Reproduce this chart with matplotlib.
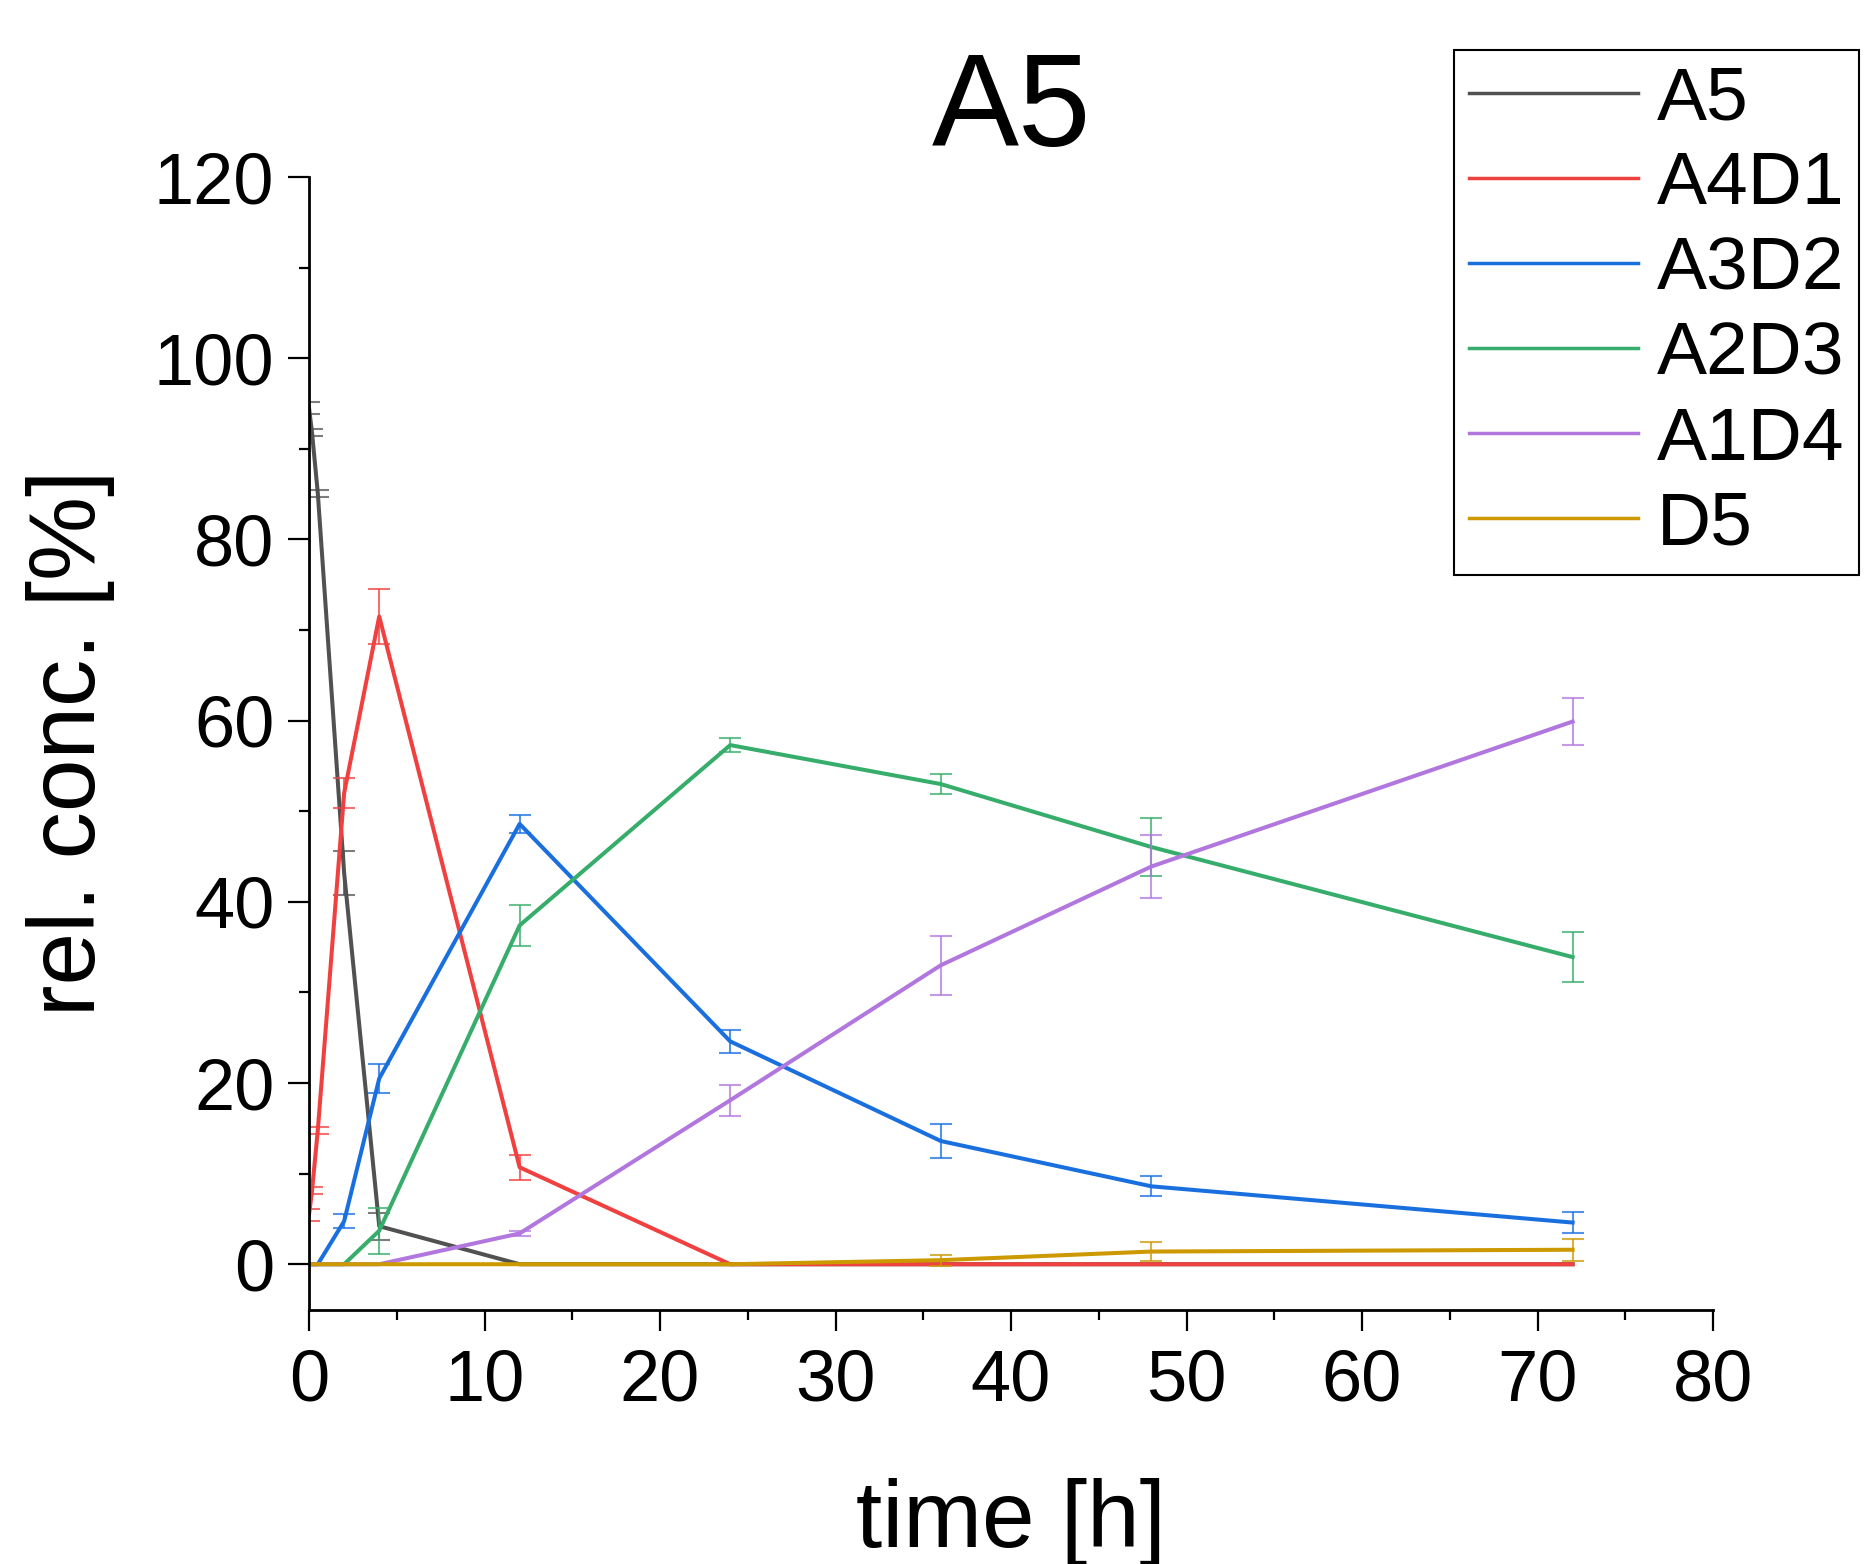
import numpy as np
import matplotlib.pyplot as plt
from matplotlib.ticker import MultipleLocator

plt.rcParams['font.family'] = ['Liberation Sans', 'DejaVu Sans']

# sampling times [h]
t = [0, 0.17, 0.5, 2, 4, 12, 24, 36, 48, 72]

# relative concentrations [%] and errors
a5 = [94.5, 91.8, 85.1, 43.2, 4.2, 0, 0, 0, 0, 0]
a5_err = [0.7, 0.4, 0.4, 2.45, 1.5, 0, 0, 0, 0, 0]
a4d1 = [5.45, 8.1, 14.8, 52.0, 71.5, 10.7, 0, 0, 0, 0]
a4d1_err = [0.65, 0.4, 0.4, 1.65, 3.0, 1.35, 0, 0, 0, 0]
a3d2 = [0, 0, 0, 4.75, 20.5, 48.6, 24.6, 13.6, 8.6, 4.6]
a3d2_err = [0, 0, 0, 0.75, 1.55, 1.0, 1.3, 1.85, 1.1, 1.15]
a2d3 = [0, 0, 0, 0, 3.7, 37.4, 57.3, 53.0, 46.05, 33.9]
a2d3_err = [0, 0, 0, 0, 2.55, 2.3, 0.75, 1.1, 3.25, 2.8]
a1d4 = [0, 0, 0, 0, 0, 3.4, 18.1, 33.0, 43.9, 59.9]
a1d4_err = [0, 0, 0, 0, 0, 0.3, 1.7, 3.25, 3.5, 2.6]
d5 = [0, 0, 0, 0, 0, 0, 0, 0.45, 1.4, 1.6]
d5_err = [0, 0, 0, 0, 0, 0, 0, 0.6, 1.0, 1.2]

labels = ['A5', 'A4D1', 'A3D2', 'A2D3', 'A1D4', 'D5']
colors = ['#515151', '#F14040', '#1A6FDF', '#37AD6B', '#B177DE', '#CC9900']
series = [(a5, a5_err), (a4d1, a4d1_err), (a3d2, a3d2_err),
          (a2d3, a2d3_err), (a1d4, a1d4_err), (d5, d5_err)]

fig = plt.figure(figsize=(18.65, 15.64), dpi=100)
ax = fig.add_axes([0.1657, 0.1627, 0.7528, 0.7241])

tt = np.array(t)
for (y, e), c, lab in zip(series, colors, labels):
    y = np.array(y)
    e = np.array(e)
    m = e > 0
    ax.errorbar(tt[m], y[m], yerr=e[m], fmt='none', ecolor=c, elinewidth=1.5,
                capsize=8, capthick=1.5, alpha=0.75)
    ax.plot(tt, y, color=c, lw=2.9, label=lab)

ax.set_xlim(0, 80)
ax.set_ylim(-5, 120)
ax.xaxis.set_major_locator(MultipleLocator(10))
ax.xaxis.set_minor_locator(MultipleLocator(5))
ax.yaxis.set_major_locator(MultipleLocator(20))
ax.yaxis.set_minor_locator(MultipleLocator(10))
ax.spines['top'].set_visible(False)
ax.spines['right'].set_visible(False)
ax.spines['left'].set_bounds(-5, 120)
for s in ['left', 'bottom']:
    ax.spines[s].set_linewidth(2)
ax.tick_params(which='major', direction='out', length=15, width=1.6, labelsize=52, pad=10)
ax.tick_params(axis='x', which='major', pad=13)
ax.tick_params(which='minor', direction='out', length=7, width=1.6)

ax.set_xlabel('time [h]', fontsize=68, labelpad=45)
ax.set_ylabel('rel. conc. [%]', fontsize=68, labelpad=28)
ax.set_title('A5', fontsize=94, pad=22)

leg = fig.legend(loc='upper right', bbox_to_anchor=(0.997, 0.968), fontsize=54,
                 frameon=True, fancybox=False, edgecolor='black', framealpha=1,
                 handlelength=2.25, handletextpad=0.25, labelspacing=0.215,
                 borderpad=0.2, borderaxespad=0)
leg.get_frame().set_linewidth(1.5)
for line in leg.get_lines():
    line.set_linewidth(2.5)

fig.savefig('out.png', dpi=100)
